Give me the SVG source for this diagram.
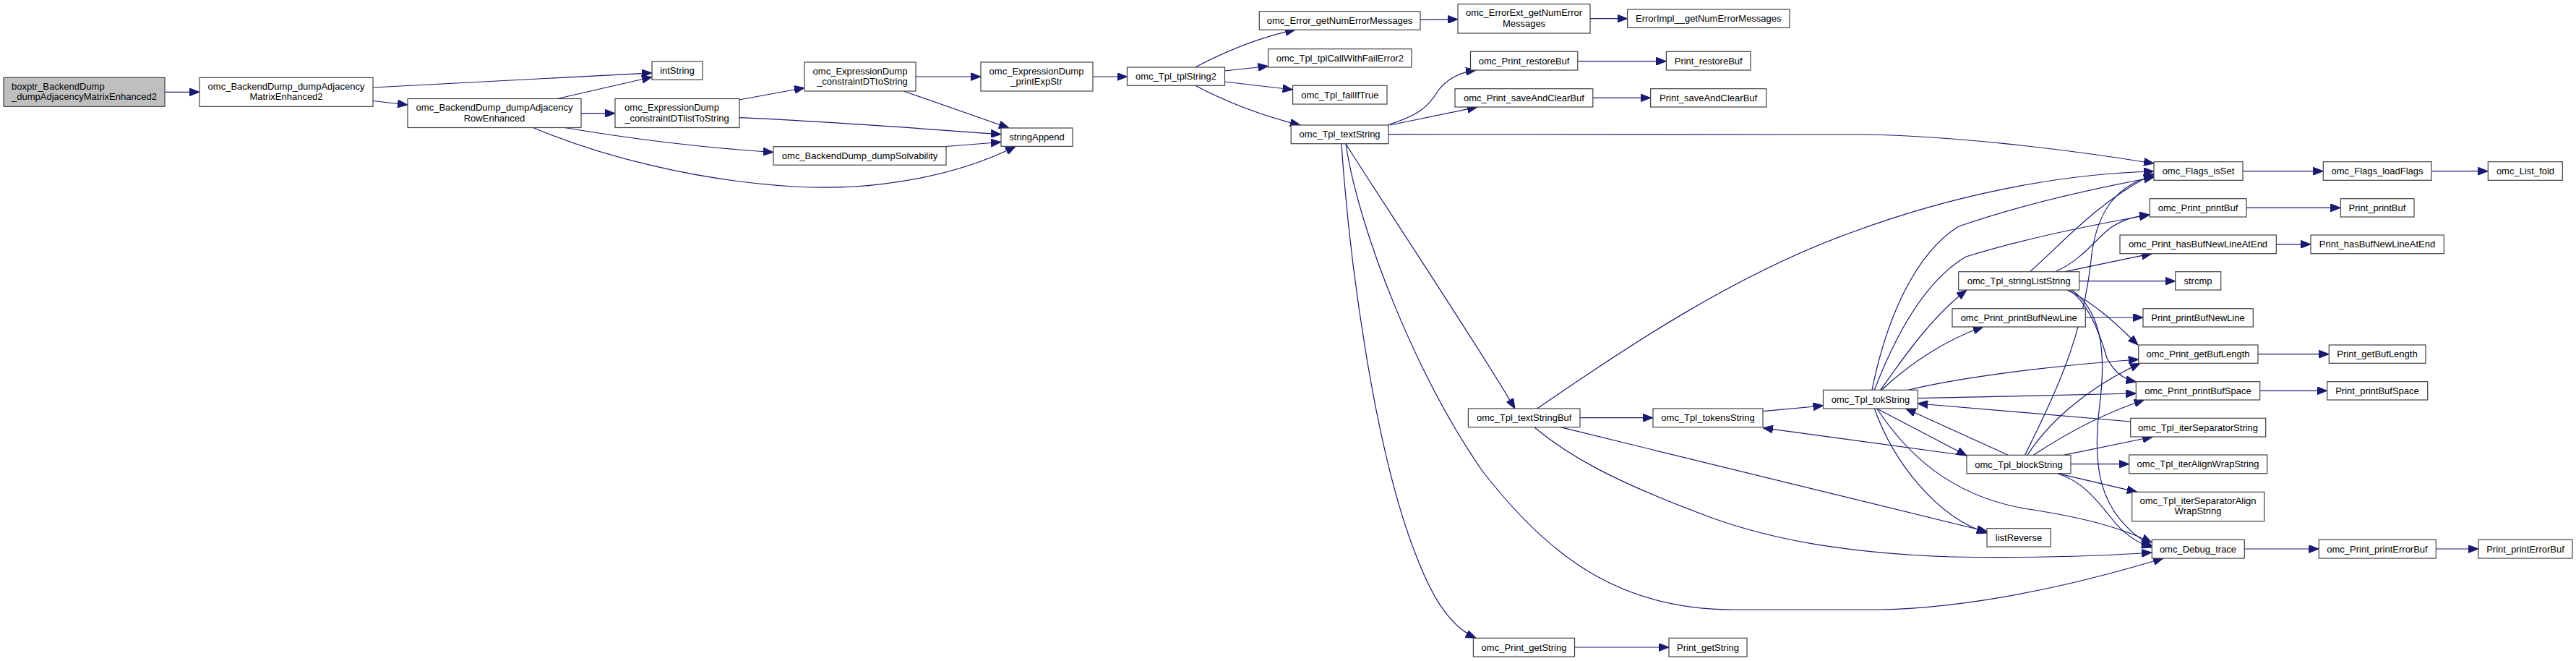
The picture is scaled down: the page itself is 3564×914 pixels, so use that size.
<svg xmlns="http://www.w3.org/2000/svg" width="3564" height="914" viewBox="0 0 3564 914">
<defs>
<marker id="a" markerUnits="userSpaceOnUse" markerWidth="14" markerHeight="11" refX="14" refY="5.5" orient="auto" viewBox="0 0 14 11"><path d="M0,0 L14,5.5 L0,11 z" fill="#191970" stroke="#191970" stroke-width="1"/></marker>
</defs>
<style>
.n rect{fill:#fff;stroke:#404040;stroke-width:1.2}
.n.root rect{fill:#bfbfbf}
text{font-family:"Liberation Sans",Arial,Helvetica,sans-serif;font-size:13px;text-anchor:middle;fill:#000}
.e path{fill:none;stroke:#191970;stroke-width:1.2;marker-end:url(#a)}
</style>
<rect width="3564" height="914" fill="#fff"/>
<g id="edges" class="e">
<path d="M228,127.3 L276,127.3"/>
<path d="M516,121 L902,100.8"/>
<path d="M516,139.5 L564,145"/>
<path d="M771,136.5 L902,106.5"/>
<path d="M804,156.7 L851,156.7"/>
<path d="M781,176.5 C850,188 950,203 1070,210.5"/>
<path d="M737.5,176.5 C830,215 960,250 1100,258 C1220,265 1330,240 1405,202.5"/>
<path d="M1022.6,138 L1113,121.5"/>
<path d="M1023,162.7 C1150,168 1300,180 1385,185.7"/>
<path d="M1267,106 L1357,106"/>
<path d="M1250,126 L1396,177"/>
<path d="M1309,202.5 L1385,196.5"/>
<path d="M1511.6,106 L1559.5,106"/>
<path d="M1653.6,93 C1690,74 1740,52 1792,41.3"/>
<path d="M1694.3,98 L1754.6,91.5"/>
<path d="M1694.3,113 L1788.6,124"/>
<path d="M1653.6,118.3 C1695,140 1745,160 1799,173"/>
<path d="M1965,27.3 L2017,26.7"/>
<path d="M2200,25.7 L2251.6,25.7"/>
<path d="M1919.5,173 C1960,160 1975,150 1990,125 C2003,108 2020,100 2042,97"/>
<path d="M1923,173 L2044,148"/>
<path d="M1921,185.7 L2580,186 C2700,188 2850,205 2980,226"/>
<path d="M1862,199 C1900,260 2040,470 2096,565"/>
<path d="M1856,199 C1866,350 1900,620 1960,770 C1985,835 2010,868 2042,882.3"/>
<path d="M1862,199 C1880,320 1960,520 2050,650 C2150,780 2250,843 2400,843 L2600,843 C2750,840 2900,800 2993,772"/>
<path d="M2182.8,84.7 L2305.4,84.7"/>
<path d="M2203.8,135.3 L2283.6,135.3"/>
<path d="M2126.8,565 C2250,480 2400,380 2560,322 C2700,270 2850,240 2980,237"/>
<path d="M2186,577.7 L2287,577.7"/>
<path d="M2159,590.7 L2749,735"/>
<path d="M2123,591 C2170,630 2230,665 2371,717 C2450,745 2550,765 2700,770 C2820,772 2920,768 2977,764"/>
<path d="M2439,568.7 L2522.5,561"/>
<path d="M2721,630 L2439,591.7"/>
<path d="M2596.7,565 L2721,630"/>
<path d="M2778.3,629.3 L2636.7,565"/>
<path d="M2948,583 L2653.3,558"/>
<path d="M2590,539.3 C2610,440 2650,350 2710,313 C2790,285 2890,262 2980,245"/>
<path d="M2593.3,539.3 C2620,470 2660,390 2720,355 C2800,330 2900,310 2974,297"/>
<path d="M2601.7,539.3 C2630,500 2670,440 2721,401"/>
<path d="M2603,539.3 C2640,505 2690,470 2744,452"/>
<path d="M2640,539.3 C2720,520 2850,505 2958.7,497"/>
<path d="M2653.3,550.7 L2955.3,544"/>
<path d="M2593.3,565 C2620,640 2680,715 2749,737"/>
<path d="M2596.7,565 C2640,630 2700,685 2800,703 C2880,715 2930,728 2977,750"/>
<path d="M2808.3,375.7 C2850,340 2900,280 2980,240"/>
<path d="M2843.3,375.7 C2880,360 2900,330 2920,315 C2940,302 2955,299 2974,297"/>
<path d="M2856.7,375.7 L2977,350.7"/>
<path d="M2876.7,388.7 L3009.7,388.7"/>
<path d="M2860,401 C2900,420 2930,450 2958,477"/>
<path d="M2863.3,401 C2890,420 2905,460 2915,495 C2925,515 2940,525 2955.3,528"/>
<path d="M2866.7,401 C2905,430 2915,480 2905,560 C2895,640 2900,710 2977,755"/>
<path d="M2885.3,439 L2965,439"/>
<path d="M2801.7,629.3 C2830,570 2880,480 2893,360 C2900,290 2930,255 2980,243"/>
<path d="M2805,629.3 C2830,590 2880,540 2961,502.3"/>
<path d="M2813.3,629.3 C2850,605 2900,575 2966.7,553"/>
<path d="M2855,629.3 L2978.3,604"/>
<path d="M2865,641.7 L2945.7,641.7"/>
<path d="M2846.7,654.7 L2956.7,680.3"/>
<path d="M2846.7,654.7 C2880,665 2900,690 2920,715 C2935,735 2955,750 2977,757"/>
<path d="M3103,236.7 L3214.3,236.7"/>
<path d="M3364,236.7 L3442.3,236.7"/>
<path d="M3108,287.3 L3238.3,287.3"/>
<path d="M3149.3,337.8 L3197,337.8"/>
<path d="M3124,489.7 L3222.3,489.7"/>
<path d="M3126.7,540.3 L3219.7,540.3"/>
<path d="M3105.3,759 L3208.3,759"/>
<path d="M3370.3,759 L3429,759"/>
<path d="M2178.5,895 L2309,895"/>
</g>
<g id="n_boxptr" class="n root"><rect x="5" y="107.3" width="223" height="40"/><text x="16" y="123.8" style="text-anchor:start">boxptr_BackendDump</text><text x="16" y="138.3" style="text-anchor:start">_dumpAdjacencyMatrixEnhanced2</text></g>
<g id="n_matrix" class="n"><rect x="276" y="107.3" width="240" height="40"/><text x="396" y="123.8">omc_BackendDump_dumpAdjacency</text><text x="396" y="138.3">MatrixEnhanced2</text></g>
<g id="n_intString" class="n"><rect x="902" y="85" width="70" height="25.3"/><text x="937" y="102.3">intString</text></g>
<g id="n_row" class="n"><rect x="564" y="136.5" width="240" height="40"/><text x="684" y="153">omc_BackendDump_dumpAdjacency</text><text x="684" y="167.5">RowEnhanced</text></g>
<g id="n_dtlist" class="n"><rect x="851" y="136.5" width="172" height="40"/><text x="929.5" y="153">omc_ExpressionDump</text><text x="936.5" y="167.5">_constraintDTlistToString</text></g>
<g id="n_dtto" class="n"><rect x="1113" y="86" width="154" height="40"/><text x="1190" y="102.5">omc_ExpressionDump</text><text x="1193" y="117">_constraintDTtoString</text></g>
<g id="n_solv" class="n"><rect x="1070" y="202.7" width="239" height="25.5"/><text x="1189.5" y="220.1">omc_BackendDump_dumpSolvability</text></g>
<g id="n_strapp" class="n"><rect x="1385" y="177" width="99" height="25.3"/><text x="1434.5" y="194.4">stringAppend</text></g>
<g id="n_printexp" class="n"><rect x="1357" y="86" width="155" height="40"/><text x="1434" y="102.5">omc_ExpressionDump</text><text x="1434" y="117">_printExpStr</text></g>
<g id="n_tpl2" class="n"><rect x="1559.5" y="93" width="135" height="25.3"/><text x="1627" y="110.4">omc_Tpl_tplString2</text></g>
<g id="n_errget" class="n"><rect x="1742.3" y="15.7" width="222.7" height="25.6"/><text x="1853.6" y="33.1">omc_Error_getNumErrorMessages</text></g>
<g id="n_callfail" class="n"><rect x="1754.6" y="67.7" width="198.4" height="25.3"/><text x="1853.8" y="85.1">omc_Tpl_tplCallWithFailError2</text></g>
<g id="n_failif" class="n"><rect x="1788.6" y="118.3" width="130.4" height="25.7"/><text x="1853.8" y="135.7">omc_Tpl_failIfTrue</text></g>
<g id="n_textstr" class="n"><rect x="1786.2" y="173" width="134.8" height="25.7"/><text x="1853.6" y="190.4">omc_Tpl_textString</text></g>
<g id="n_errext" class="n"><rect x="2017" y="5.7" width="183" height="40.3"/><text x="2108.5" y="22.2">omc_ErrorExt_getNumError</text><text x="2108.5" y="36.7">Messages</text></g>
<g id="n_errimpl" class="n"><rect x="2251.6" y="13" width="224.4" height="25.3"/><text x="2363.8" y="30.4">ErrorImpl__getNumErrorMessages</text></g>
<g id="n_restore" class="n"><rect x="2034.5" y="71.3" width="148.3" height="25.7"/><text x="2108.6" y="88.7">omc_Print_restoreBuf</text></g>
<g id="n_prestore" class="n"><rect x="2305.4" y="71.3" width="116.6" height="25.7"/><text x="2363.7" y="88.7">Print_restoreBuf</text></g>
<g id="n_save" class="n"><rect x="2013" y="122.7" width="190.8" height="25.3"/><text x="2108.4" y="140.1">omc_Print_saveAndClearBuf</text></g>
<g id="n_psave" class="n"><rect x="2283.6" y="122.7" width="160" height="25.3"/><text x="2363.6" y="140.1">Print_saveAndClearBuf</text></g>
<g id="n_tsbuf" class="n"><rect x="2031.4" y="565" width="154.6" height="25.7"/><text x="2108.7" y="582.4">omc_Tpl_textStringBuf</text></g>
<g id="n_tokens" class="n"><rect x="2287" y="565" width="152" height="25.7"/><text x="2363" y="582.4">omc_Tpl_tokensString</text></g>
<g id="n_getstr" class="n"><rect x="2038.4" y="882.3" width="140.1" height="25.7"/><text x="2108.5" y="899.7">omc_Print_getString</text></g>
<g id="n_pgetstr" class="n"><rect x="2309" y="882.3" width="108" height="25.7"/><text x="2363" y="899.7">Print_getString</text></g>
<g id="n_tok" class="n"><rect x="2522.5" y="539.3" width="130.8" height="25.7"/><text x="2588" y="556.7">omc_Tpl_tokString</text></g>
<g id="n_sls" class="n"><rect x="2709.7" y="375.7" width="167" height="25.3"/><text x="2793.2" y="393.1">omc_Tpl_stringListString</text></g>
<g id="n_pbnl" class="n"><rect x="2701" y="426.7" width="184.3" height="25.3"/><text x="2793.2" y="444.1">omc_Print_printBufNewLine</text></g>
<g id="n_block" class="n"><rect x="2721" y="629.3" width="144" height="25.4"/><text x="2793" y="646.7">omc_Tpl_blockString</text></g>
<g id="n_lrev" class="n"><rect x="2749" y="730.7" width="88.3" height="25.3"/><text x="2793" y="748.1">listReverse</text></g>
<g id="n_isset" class="n"><rect x="2980" y="223.7" width="123" height="25.6"/><text x="3041.5" y="241.1">omc_Flags_isSet</text></g>
<g id="n_pbuf" class="n"><rect x="2974.3" y="274.7" width="133.7" height="25.3"/><text x="3041" y="292.1">omc_Print_printBuf</text></g>
<g id="n_hasnl" class="n"><rect x="2933" y="325" width="216.3" height="25.7"/><text x="3041" y="342.4">omc_Print_hasBufNewLineAtEnd</text></g>
<g id="n_strcmp" class="n"><rect x="3009.7" y="375.7" width="63" height="25.3"/><text x="3041" y="393.1">strcmp</text></g>
<g id="n_ppbnl" class="n"><rect x="2965" y="426.7" width="152.3" height="25.3"/><text x="3041" y="444.1">Print_printBufNewLine</text></g>
<g id="n_gbl" class="n"><rect x="2958.7" y="477" width="165.3" height="25.3"/><text x="3041" y="494.4">omc_Print_getBufLength</text></g>
<g id="n_pbs" class="n"><rect x="2955.3" y="527.7" width="171.4" height="25.3"/><text x="3041" y="545.1">omc_Print_printBufSpace</text></g>
<g id="n_isep" class="n"><rect x="2947.7" y="578.3" width="187" height="25.7"/><text x="3041" y="595.7">omc_Tpl_iterSeparatorString</text></g>
<g id="n_ialign" class="n"><rect x="2945.7" y="629" width="191" height="25.7"/><text x="3041" y="646.4">omc_Tpl_iterAlignWrapString</text></g>
<g id="n_isepalign" class="n"><rect x="2949.7" y="680.3" width="183" height="40.4"/><text x="3041" y="696.8">omc_Tpl_iterSeparatorAlign</text><text x="3041" y="711.3">WrapString</text></g>
<g id="n_dbg" class="n"><rect x="2977.3" y="746.3" width="128" height="25.7"/><text x="3041" y="763.7">omc_Debug_trace</text></g>
<g id="n_loadflags" class="n"><rect x="3214.3" y="223.7" width="149.7" height="25.6"/><text x="3289" y="241.1">omc_Flags_loadFlags</text></g>
<g id="n_listfold" class="n"><rect x="3442.3" y="223.7" width="103" height="25.6"/><text x="3494" y="241.1">omc_List_fold</text></g>
<g id="n_ppbuf" class="n"><rect x="3238.3" y="274.7" width="101.7" height="25.3"/><text x="3289" y="292.1">Print_printBuf</text></g>
<g id="n_phasnl" class="n"><rect x="3197" y="325" width="184.3" height="25.7"/><text x="3289" y="342.4">Print_hasBufNewLineAtEnd</text></g>
<g id="n_pgbl" class="n"><rect x="3222.3" y="477" width="133.7" height="25.3"/><text x="3289" y="494.4">Print_getBufLength</text></g>
<g id="n_ppbs" class="n"><rect x="3219.7" y="527.7" width="139" height="25.3"/><text x="3289" y="545.1">Print_printBufSpace</text></g>
<g id="n_perr" class="n"><rect x="3208.3" y="746.3" width="162" height="25.7"/><text x="3289" y="763.7">omc_Print_printErrorBuf</text></g>
<g id="n_pperr" class="n"><rect x="3429" y="746.3" width="130" height="25.7"/><text x="3494" y="763.7">Print_printErrorBuf</text></g>
</svg>
